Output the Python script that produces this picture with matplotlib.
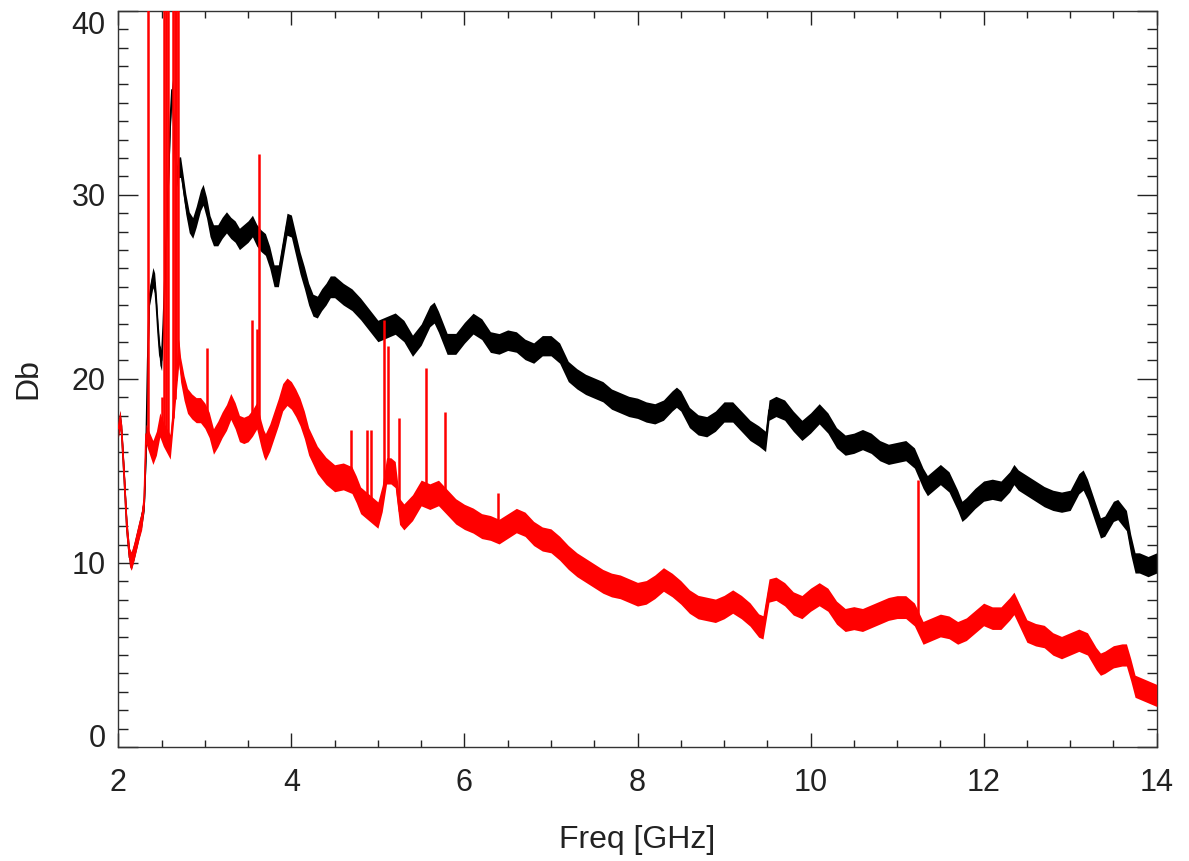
import numpy as np
import matplotlib
matplotlib.use("Agg")
import matplotlib.pyplot as plt

# ---------------- data ----------------
black_freq = [2.00, 2.02, 2.04, 2.07, 2.10, 2.13, 2.15, 2.18, 2.21, 2.24, 2.27, 2.30, 2.32, 2.34,
              2.36, 2.38, 2.40, 2.42, 2.44, 2.46, 2.48, 2.50, 2.52, 2.55, 2.58, 2.60, 2.62, 2.64,
              2.66, 2.68, 2.70, 2.72, 2.75, 2.78, 2.82, 2.86, 2.90, 2.95, 2.98, 3.02, 3.06, 3.10,
              3.15, 3.20, 3.25, 3.30, 3.35, 3.40, 3.45, 3.50, 3.55, 3.60, 3.65, 3.70, 3.75, 3.80,
              3.85, 3.90, 3.95, 4.00, 4.05, 4.10, 4.15, 4.20, 4.25, 4.30, 4.35, 4.40, 4.45, 4.50,
              4.60, 4.70, 4.80, 4.90, 5.00, 5.10, 5.20, 5.30, 5.40, 5.50, 5.60, 5.65, 5.70, 5.80,
              5.90, 6.00, 6.10, 6.20, 6.30, 6.40, 6.50, 6.60, 6.70, 6.80, 6.90, 7.00, 7.10, 7.20,
              7.30, 7.40, 7.50, 7.60, 7.70, 7.80, 7.90, 8.00, 8.10, 8.20, 8.30, 8.40, 8.45, 8.50,
              8.60, 8.70, 8.80, 8.90, 9.00, 9.10, 9.20, 9.30, 9.40, 9.48, 9.52, 9.60, 9.70, 9.80,
              9.90, 10.00, 10.10, 10.20, 10.30, 10.40, 10.50, 10.60, 10.70, 10.80, 10.90, 11.00,
              11.10, 11.20, 11.30, 11.35, 11.40, 11.50, 11.60, 11.70, 11.75, 11.80, 11.90, 12.00,
              12.10, 12.20, 12.30, 12.35, 12.40, 12.50, 12.60, 12.70, 12.80, 12.90, 13.00, 13.10,
              13.15, 13.20, 13.30, 13.35, 13.40, 13.50, 13.55, 13.60, 13.65, 13.70, 13.75, 13.80,
              13.90, 14.00]
black_db = [17.3, 17.8, 17.0, 14.5, 11.8, 10.3, 10.1, 10.6, 11.2, 11.8, 12.4, 13.3, 16.0, 21.0,
            24.5, 25.0, 25.5, 25.2, 24.0, 22.5, 21.3, 21.0, 23.0, 27.0, 31.0, 34.0, 35.7, 34.0,
            32.0, 31.0, 31.5, 31.5, 30.5, 29.5, 28.5, 28.2, 28.8, 29.7, 30.0, 29.3, 28.3, 27.8,
            27.8, 28.2, 28.5, 28.2, 28.0, 27.6, 27.8, 28.0, 28.3, 27.8, 27.5, 27.3, 26.6, 25.6,
            25.6, 27.0, 28.4, 28.3, 27.3, 26.3, 25.5, 24.6, 24.0, 23.9, 24.3, 24.6, 25.0, 25.0,
            24.6, 24.3, 23.8, 23.2, 22.6, 22.8, 23.0, 22.6, 21.8, 22.4, 23.4, 23.6, 23.1, 21.9,
            21.9, 22.5, 23.0, 22.7, 22.0, 21.9, 22.1, 22.0, 21.6, 21.4, 21.8, 21.8, 21.4, 20.4,
            20.0, 19.7, 19.5, 19.3, 18.9, 18.7, 18.5, 18.4, 18.2, 18.1, 18.3, 18.8, 19.0, 18.8,
            17.9, 17.5, 17.4, 17.7, 18.2, 18.2, 17.7, 17.2, 16.9, 16.6, 18.3, 18.5, 18.3, 17.7,
            17.2, 17.6, 18.1, 17.6, 16.8, 16.4, 16.5, 16.7, 16.5, 16.1, 15.9, 16.0,
            16.1, 15.7, 14.6, 14.2, 14.4, 14.8, 14.4, 13.4, 12.8, 13.0, 13.5, 13.9,
            14.0, 13.9, 14.4, 14.8, 14.5, 14.2, 13.9, 13.6, 13.4, 13.3, 13.4, 14.3,
            14.5, 14.0, 12.6, 11.9, 12.0, 12.8, 12.9, 12.6, 12.3, 11.0, 10.0, 10.0,
            9.8, 10.0]

red_freq = [2.00, 2.02, 2.04, 2.07, 2.10, 2.13, 2.15, 2.18, 2.21, 2.24, 2.27, 2.30, 2.32, 2.36,
            2.40, 2.44, 2.48, 2.52, 2.60, 2.70, 2.72, 2.76, 2.80, 2.85, 2.90, 2.95, 3.00, 3.05,
            3.10, 3.15, 3.20, 3.25, 3.30, 3.35, 3.40, 3.45, 3.50, 3.55, 3.60, 3.65, 3.68, 3.70,
            3.75, 3.80, 3.85, 3.90, 3.95, 4.00, 4.05, 4.10, 4.15, 4.20, 4.30, 4.40, 4.50, 4.60,
            4.70, 4.75, 4.80, 4.90, 5.00, 5.05, 5.10, 5.15, 5.20, 5.25, 5.30, 5.40, 5.50, 5.60,
            5.70, 5.80, 5.90, 6.00, 6.10, 6.20, 6.30, 6.40, 6.50, 6.60, 6.70, 6.80, 6.90, 7.00,
            7.10, 7.20, 7.30, 7.40, 7.50, 7.60, 7.70, 7.80, 7.90, 8.00, 8.10, 8.20, 8.30, 8.40,
            8.50, 8.60, 8.70, 8.80, 8.90, 9.00, 9.10, 9.20, 9.30, 9.40, 9.45, 9.52, 9.60, 9.70,
            9.80, 9.90, 10.00, 10.10, 10.20, 10.30, 10.40, 10.50, 10.60, 10.70, 10.80, 10.90,
            11.00, 11.10, 11.20, 11.30, 11.40, 11.50, 11.60, 11.70, 11.80, 11.90, 12.00, 12.10,
            12.20, 12.30, 12.35, 12.40, 12.50, 12.60, 12.70, 12.80, 12.90, 13.00, 13.10, 13.20,
            13.30, 13.35, 13.40, 13.50, 13.60, 13.65, 13.70, 13.75, 13.80, 13.90, 14.00]
red_db = [17.3, 17.8, 17.0, 14.5, 11.8, 10.3, 10.1, 10.6, 11.2, 11.8, 12.3, 13.5, 17.0, 16.5,
          16.0, 16.5, 17.5, 17.0, 16.3, 21.5, 20.5, 19.5, 18.8, 18.5, 18.3, 18.3, 18.0, 17.5,
          16.6, 17.0, 17.5, 17.9, 18.5, 18.0, 17.3, 17.2, 17.3, 17.6, 18.0, 17.0, 16.5, 16.3,
          16.8, 17.5, 18.2, 19.0, 19.3, 19.1, 18.7, 18.2, 17.5, 16.6, 15.6, 15.0, 14.6, 14.7,
          14.5, 14.0, 13.4, 13.0, 12.6, 13.5, 15.0, 15.0, 14.8, 12.8, 12.5, 13.0, 13.8, 13.6,
          13.8, 13.3, 12.8, 12.5, 12.3, 12.0, 11.9, 11.7, 12.0, 12.3, 12.1, 11.6, 11.3, 11.2,
          10.8, 10.3, 9.9, 9.6, 9.3, 9.0, 8.8, 8.7, 8.5, 8.3, 8.4, 8.7, 9.1, 8.8,
          8.4, 7.9, 7.6, 7.5, 7.4, 7.6, 7.9, 7.6, 7.2, 6.6, 6.5, 8.5, 8.6, 8.3,
          7.8, 7.6, 8.0, 8.3, 8.0, 7.3, 6.9, 7.0, 6.9, 7.1, 7.3, 7.5,
          7.6, 7.6, 7.2, 6.2, 6.4, 6.6, 6.5, 6.2, 6.4, 6.8, 7.2, 7.0,
          7.0, 7.5, 7.8, 7.3, 6.3, 6.1, 6.0, 5.6, 5.4, 5.6, 5.8, 5.6,
          4.8, 4.5, 4.6, 4.9, 5.0, 5.0, 4.2, 3.3, 3.2, 3.0, 2.8]

# narrow spikes of the red trace (frequency, peak value)
red_spike_freq = [2.34, 2.50, 2.53, 2.55, 2.57, 2.63, 2.65, 2.67, 2.69, 3.03, 3.54, 3.60,
                  3.63, 4.69, 4.87, 4.92, 5.07, 5.12, 5.24, 5.56, 5.77, 6.39, 11.24]
red_spike_top = [42.0, 19.0, 42.0, 42.0, 42.0, 42.0, 42.0, 42.0, 42.0, 21.7, 23.2, 22.7,
                 32.2, 17.2, 17.2, 17.2, 23.2, 21.8, 17.9, 20.6, 18.2, 13.8, 14.5]

# half width of the noisy band, given at a few frequencies
noise_freq = [2.0, 2.3, 2.4, 4.0, 7.0, 14.0]
black_noise = [0.45, 0.45, 0.55, 0.60, 0.55, 0.55]
red_noise = [0.50, 0.50, 0.65, 0.75, 0.65, 0.60]

x_ticks = [2, 4, 6, 8, 10, 12, 14]
y_ticks = [0, 10, 20, 30, 40]

# ---------------- figure ----------------
W, H, DPI = 1189, 861, 100
fig = plt.figure(figsize=(W / DPI, H / DPI), dpi=DPI)
ax = fig.add_axes([118.3 / W, 1 - 747 / H, (1156.7 - 118.3) / W, (747 - 10.7) / H])

font = ['Liberation Sans', 'DejaVu Sans']
RED = '#ff0000'

bf = np.array(black_freq); bd = np.array(black_db)
rf = np.array(red_freq); rd = np.array(red_db)
bn = np.interp(bf, noise_freq, black_noise)
rn = np.interp(rf, noise_freq, red_noise)

ax.fill_between(bf, bd - bn, bd + bn, color='black', lw=0, zorder=2)
ax.plot(bf, bd, color='black', lw=1.2, zorder=2)

ax.fill_between(rf, rd - rn, rd + rn, color=RED, lw=0, zorder=3)
ax.plot(rf, rd, color=RED, lw=1.2, zorder=3)
base = np.interp(red_spike_freq, rf, rd)
ax.vlines(red_spike_freq, base, red_spike_top, color=RED, lw=1.8, zorder=3)

ax.set_xlim(2, 14)
ax.set_ylim(0, 40)
ax.set_xticks(x_ticks)
ax.set_xticks(np.arange(2, 14.01, 0.5), minor=True)
ax.set_yticks(y_ticks)
ax.set_yticks(np.arange(0, 40.01, 1), minor=True)

ax.tick_params(which='both', direction='in', top=True, right=True, colors='#222222', width=1.0)
ax.xaxis.set_tick_params(which='major', length=10, pad=15)
ax.xaxis.set_tick_params(which='minor', length=5)
ax.yaxis.set_tick_params(which='major', length=14.5, pad=9)
ax.yaxis.set_tick_params(which='minor', length=7.2)

ax.set_xticklabels([str(v) for v in x_ticks], fontsize=22, family=font, color='#222222')
ax.set_yticklabels([str(v) for v in y_ticks], fontsize=22, family=font, color='#222222')
ylabs = ax.get_yticklabels()
ylabs[0].set_va('baseline')
ylabs[-1].set_va('top')

for s in ax.spines.values():
    s.set_color('#333333')
    s.set_linewidth(1.0)

ax.set_xlabel('Freq [GHz]', fontsize=23, family=font, color='#222222', va='center')
ax.xaxis.set_label_coords(0.5, -0.126)
ax.set_ylabel('Db', fontsize=23, family=font, color='#222222', va='center', ha='center')
ax.yaxis.set_label_coords(-0.087, 0.5)

fig.savefig('out.png', dpi=DPI)
